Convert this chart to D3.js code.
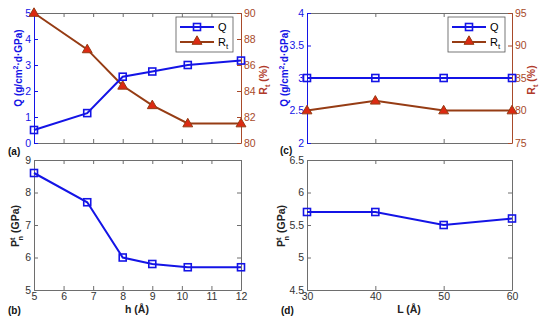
<!DOCTYPE html>
<html>
<head>
<meta charset="utf-8">
<script src="https://cdn.jsdelivr.net/npm/d3@7"></script>
<style>
  body { margin: 0; background: #fff; }
  svg { font-family: "Liberation Sans", Arial, sans-serif; }
  .tick text { font-size: 10.5px; }
</style>
</head>
<body>
<svg id="chart" width="550" height="322"></svg>
<script>
// values
var hVals = [5, 6.8, 8, 9, 10.2, 12];
var qByH = [0.5, 1.15, 2.55, 2.75, 3.0, 3.17];
var rtByH = [90, 87.2, 84.4, 82.9, 81.5, 81.5];
var pByH = [8.6, 7.7, 6.0, 5.8, 5.7, 5.7];

var lVals = [30, 40, 50, 60];
var qByL = [3, 3, 3, 3];
var rtByL = [80, 81.5, 80, 80];
var pByL = [5.7, 5.7, 5.5, 5.6];

var hTicks = [5, 6, 7, 8, 9, 10, 11, 12];
var lTicks = [30, 40, 50, 60];

var blue = "#1414e6",
  brown = "#963c14",
  rtAxis = "#a84a2a",
  triFill = "#dc2a12",
  gray = "#6e6e6e";

var svg = d3.select("#chart");

function sq(g, x, y) {
  g.append("rect")
    .attr("x", x - 3.5).attr("y", y - 3.5)
    .attr("width", 7).attr("height", 7)
    .attr("fill", "none").attr("stroke", blue).attr("stroke-width", 1.6);
}

function tri(g, x, y) {
  g.append("path")
    .attr("d", d3.symbol(d3.symbolTriangle, 42)())
    .attr("transform", "translate(" + x + "," + (y + 0.5) + ")")
    .attr("fill", triFill).attr("stroke", brown).attr("stroke-width", 1);
}

function styleAxis(g, color, textColor) {
  g.selectAll("path.domain").attr("stroke", color).attr("stroke-width", 1);
  g.selectAll(".tick line").attr("stroke", color);
  g.selectAll(".tick text").attr("fill", textColor || color);
}

function fmt(d) { return String(d); }

// draws one panel; opts carries scales + data
function panel(o) {
  var g = svg.append("g");
  var x = d3.scaleLinear().domain(o.xDom).range(o.xr);
  var y = d3.scaleLinear().domain(o.yDom).range(o.yr);

  // top & bottom
  var bot = g.append("g").attr("transform", "translate(0," + o.yr[0] + ")")
    .call(d3.axisBottom(x).tickValues(o.xTicks).tickSizeInner(-4).tickSizeOuter(0)
      .tickPadding(3).tickFormat(o.xLabels ? fmt : ""));
  styleAxis(bot, gray, "#333");
  var top = g.append("g").attr("transform", "translate(0," + o.yr[1] + ")")
    .call(d3.axisTop(x).tickValues(o.xTicks).tickSizeInner(-4).tickSizeOuter(0).tickFormat(""));
  styleAxis(top, gray);

  var left = g.append("g").attr("transform", "translate(" + o.xr[0] + ",0)")
    .call(d3.axisLeft(y).tickValues(o.yTicks).tickSizeInner(-4).tickSizeOuter(0)
      .tickPadding(3).tickFormat(fmt));
  styleAxis(left, o.leftColor, o.leftText);

  var y2 = null;
  if (o.y2Dom) {
    y2 = d3.scaleLinear().domain(o.y2Dom).range(o.yr);
    var right = g.append("g").attr("transform", "translate(" + o.xr[1] + ",0)")
      .call(d3.axisRight(y2).tickValues(o.y2Ticks).tickSizeInner(-4).tickSizeOuter(0)
        .tickPadding(3).tickFormat(fmt));
    styleAxis(right, rtAxis);
  } else {
    var right = g.append("g").attr("transform", "translate(" + o.xr[1] + ",0)")
      .call(d3.axisRight(y).tickValues(o.yTicks).tickSizeInner(-4).tickSizeOuter(0).tickFormat(""));
    styleAxis(right, gray);
  }

  var line = d3.line().x(function(d) { return x(d[0]); }).y(function(d) { return y(d[1]); });

  if (o.rt) {
    var rtPts = d3.zip(o.xs, o.rt);
    var line2 = d3.line().x(function(d) { return x(d[0]); }).y(function(d) { return y2(d[1]); });
    g.append("path").datum(rtPts).attr("d", line2)
      .attr("fill", "none").attr("stroke", brown).attr("stroke-width", 2);
    rtPts.forEach(function(d) { tri(g, x(d[0]), y2(d[1])); });
  }

  var pts = d3.zip(o.xs, o.ys);
  g.append("path").datum(pts).attr("d", line)
    .attr("fill", "none").attr("stroke", blue).attr("stroke-width", 2);
  pts.forEach(function(d) { sq(g, x(d[0]), y(d[1])); });

  return g;
}

function legend(x0, y0) {
  var g = svg.append("g");
  g.append("rect").attr("x", x0).attr("y", y0).attr("width", 57).attr("height", 35)
    .attr("fill", "#fff").attr("stroke", "#555").attr("stroke-width", 0.8);
  g.append("line").attr("x1", x0 + 4).attr("x2", x0 + 38).attr("y1", y0 + 10).attr("y2", y0 + 10)
    .attr("stroke", blue).attr("stroke-width", 2);
  sq(g, x0 + 21, y0 + 10);
  g.append("line").attr("x1", x0 + 4).attr("x2", x0 + 38).attr("y1", y0 + 25).attr("y2", y0 + 25)
    .attr("stroke", brown).attr("stroke-width", 2);
  tri(g, x0 + 21, y0 + 24);
  g.append("text").attr("x", x0 + 42).attr("y", y0 + 14).attr("font-size", 11).text("Q");
  var t = g.append("text").attr("x", x0 + 42).attr("y", y0 + 29).attr("font-size", 11);
  t.append("tspan").text("R");
  t.append("tspan").attr("font-size", 8).attr("dy", 3).text("t");
}

var ax = [34, 241], cx = [307, 512];
var topY = [143, 13], botY = [290, 160];

panel({ xDom: [5, 12], xr: ax, yDom: [0, 5], yr: topY, xTicks: hTicks, xLabels: false,
  yTicks: [0, 1, 2, 3, 4, 5], leftColor: blue, xs: hVals, ys: qByH,
  y2Dom: [80, 90], y2Ticks: [80, 82, 84, 86, 88, 90], rt: rtByH });
panel({ xDom: [5, 12], xr: ax, yDom: [5, 9], yr: botY, xTicks: hTicks, xLabels: true,
  yTicks: [5, 6, 7, 8, 9], leftColor: gray, leftText: "#333", xs: hVals, ys: pByH });
panel({ xDom: [30, 60], xr: cx, yDom: [2, 4], yr: topY, xTicks: lTicks, xLabels: false,
  yTicks: [2, 2.5, 3, 3.5, 4], leftColor: blue, xs: lVals, ys: qByL,
  y2Dom: [75, 95], y2Ticks: [75, 80, 85, 90, 95], rt: rtByL });
panel({ xDom: [30, 60], xr: cx, yDom: [4.5, 6.5], yr: botY, xTicks: lTicks, xLabels: true,
  yTicks: [4.5, 5, 5.5, 6, 6.5], leftColor: gray, leftText: "#333", xs: lVals, ys: pByL });

legend(176, 17);
legend(448, 17);

// axis titles
function qLabel(x, y) {
  var t = svg.append("text").attr("transform", "translate(" + x + "," + y + ") rotate(-90)")
    .attr("text-anchor", "middle").attr("font-weight", "bold").attr("font-size", 10).attr("fill", blue);
  t.append("tspan").text("Q (g/cm");
  t.append("tspan").attr("font-size", 7).attr("dy", -4).text("2");
  t.append("tspan").attr("dy", 4).text("·d·GPa)");
}
function rtLabel(x, y) {
  var t = svg.append("text").attr("transform", "translate(" + x + "," + y + ") rotate(-90)")
    .attr("text-anchor", "middle").attr("font-weight", "bold").attr("font-size", 10.5).attr("fill", "#b03a2a");
  t.append("tspan").text("R");
  t.append("tspan").attr("font-size", 7.5).attr("dy", 3).text("t");
  t.append("tspan").attr("dy", -3).text(" (%)");
}
function pLabel(x, y) {
  var t = svg.append("text").attr("transform", "translate(" + x + "," + y + ") rotate(-90)")
    .attr("text-anchor", "middle").attr("font-weight", "bold").attr("font-size", 10.5).attr("fill", "#222");
  t.append("tspan").text("P");
  t.append("tspan").attr("font-size", 7.5).attr("dy", -4).text("t");
  t.append("tspan").attr("font-size", 7.5).attr("dx", -3).attr("dy", 8).text("n");
  t.append("tspan").attr("dy", -4).text(" (GPa)");
}
qLabel(22, 68);
rtLabel(267, 80);
pLabel(19, 226);
qLabel(288, 68);
rtLabel(535, 80);
pLabel(285, 226);

svg.append("text").attr("x", 137).attr("y", 313).attr("text-anchor", "middle")
  .attr("font-weight", "bold").attr("font-size", 10.5).attr("fill", "#222").text("h (Å)");
svg.append("text").attr("x", 409).attr("y", 313).attr("text-anchor", "middle")
  .attr("font-weight", "bold").attr("font-size", 10.5).attr("fill", "#222").text("L (Å)");

[["(a)", 8, 155], ["(b)", 8, 314], ["(c)", 280, 154], ["(d)", 281, 314]].forEach(function(p) {
  svg.append("text").attr("x", p[1]).attr("y", p[2]).attr("font-weight", "bold")
    .attr("font-size", 10).attr("fill", "#111").text(p[0]);
});
</script>
</body>
</html>
